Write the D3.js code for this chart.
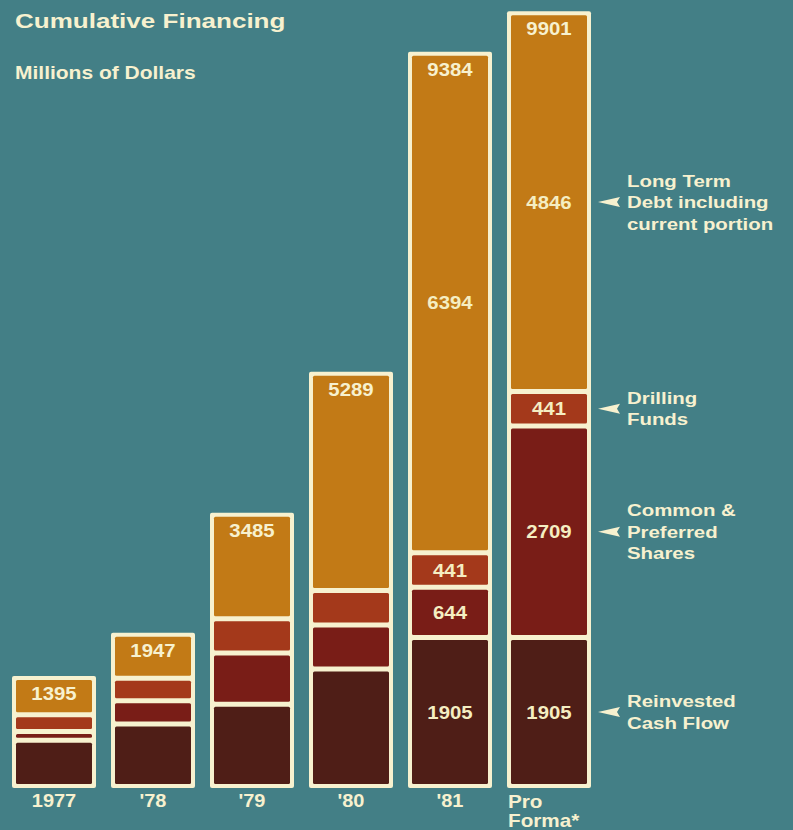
<!DOCTYPE html>
<html>
<head>
<meta charset="utf-8">
<script src="https://cdn.jsdelivr.net/npm/d3@7"></script>
<style>
  html, body { margin: 0; padding: 0; background: #437f86; }
  svg { display: block; }
</style>
</head>
<body>
<svg id="cumulative-financing-chart"></svg>
<script>
// values (millions of dollars)
const years = ["1977", "'78", "'79", "'80", "'81", "Pro Forma*"];
const reinvestedCashFlow = [591, 799, 1052, 1502, 1905, 1905];
const commonPreferred = [113, 299, 656, 566, 644, 2709];
const drillingFunds = [214, 287, 437, 441, 441, 441];
const longTermDebt = [477, 562, 1340, 2780, 6394, 4846];
const totals = [1395, 1947, 3485, 5289, 9384, 9901];
// columns that carry a number on every segment
const labelledYears = ["'81", "Pro Forma*"];

const seriesKeys = ["cash", "common", "drilling", "debt"];
const legendLines = {
  debt: ["Long Term", "Debt including", "current portion"],
  drilling: ["Drilling", "Funds"],
  common: ["Common &", "Preferred", "Shares"],
  cash: ["Reinvested", "Cash Flow"]
};

(function() {
  const BG = "#437f86";
  const CREAM = "#f7f1cf";
  const COLORS = {
    cash: "#4f1e17",
    common: "#791d17",
    drilling: "#a4391b",
    debt: "#c27a16"
  };
  const FONT = "'Liberation Sans', Arial, sans-serif";

  const width = 793;
  const height = 830;

  const svg = d3.select("#cumulative-financing-chart")
    .attr("width", width)
    .attr("height", height);

  svg.append("rect")
    .attr("width", width).attr("height", height)
    .attr("fill", BG);

  const rows = years.map((year, i) => ({
    year,
    cash: reinvestedCashFlow[i],
    common: commonPreferred[i],
    drilling: drillingFunds[i],
    debt: longTermDebt[i],
    total: totals[i]
  }));

  const stacked = d3.stack().keys(seriesKeys)(rows);

  const x = d3.scaleBand()
    .domain(years)
    .range([12, 591])
    .paddingInner(0.1515)
    .paddingOuter(0);

  const y = d3.scaleLinear()
    .domain([0, 10000])
    .range([786.5, 5]);

  const GAP = 5;     // cream gap between segments
  const FRAME = 4;   // cream border around each column

  // stretched bold text, the print face is wider than Arial
  function label(parent, px, py, str, size, sx, anchor, fill) {
    return parent.append("text")
      .attr("transform", `translate(${px},${py}) scale(${sx},1)`)
      .attr("text-anchor", anchor || "start")
      .attr("font-family", FONT)
      .attr("font-weight", 700)
      .attr("font-size", size)
      .attr("fill", fill || CREAM)
      .text(str);
  }

  // Title
  label(svg, 15, 28, "Cumulative Financing", 21, 1.24);
  label(svg, 15, 79, "Millions of Dollars", 17.5, 1.2);

  // Column frames
  svg.append("g")
    .selectAll("rect")
    .data(rows)
    .join("rect")
    .attr("x", d => x(d.year))
    .attr("y", d => y(d.total) + GAP / 2 - FRAME)
    .attr("width", x.bandwidth())
    .attr("height", d => y(0) - y(d.total) - GAP + 2 * FRAME)
    .attr("rx", 2)
    .attr("fill", CREAM);

  // Segments
  const segG = svg.append("g");
  stacked.forEach(layer => {
    segG.append("g")
      .selectAll("rect")
      .data(layer)
      .join("rect")
      .attr("x", d => x(d.data.year) + FRAME)
      .attr("y", d => y(d[1]) + GAP / 2)
      .attr("width", x.bandwidth() - 2 * FRAME)
      .attr("height", d => Math.max(0, y(d[0]) - y(d[1]) - GAP))
      .attr("rx", 1.5)
      .attr("fill", COLORS[layer.key]);
  });

  // Totals at the top of each column
  rows.forEach(d => {
    label(svg, x(d.year) + x.bandwidth() / 2, y(d.total) + GAP / 2 + 20,
      d3.format("d")(d.total), 18.5, 1.1, "middle");
  });

  // Segment values for the last two columns
  stacked.forEach(layer => {
    layer.filter(d => labelledYears.includes(d.data.year)).forEach(d => {
      const cy = (y(d[0]) + y(d[1])) / 2;
      label(svg, x(d.data.year) + x.bandwidth() / 2, cy + 6.5,
        d3.format("d")(d[1] - d[0]), 18.5, 1.1, "middle", "#f5eec2");
    });
  });

  // Year labels
  rows.forEach(d => {
    if (d.year === "Pro Forma*") {
      const [a, b] = d.year.split(" ");
      label(svg, x(d.year) + 1, 808, a, 18, 1.15);
      label(svg, x(d.year) + 1, 827, b, 18, 1.15);
    } else {
      label(svg, x(d.year) + x.bandwidth() / 2, 807, d.year, 18.5, 1.08, "middle");
    }
  });

  // Legend, pointing at the pro forma column
  const last = years[years.length - 1];
  const legendG = svg.append("g");
  stacked.forEach(layer => {
    const seg = layer.find(d => d.data.year === last);
    const cy = (y(seg[0]) + y(seg[1])) / 2;
    const tip = x(last) + x.bandwidth() + 7;

    legendG.append("path")
      .attr("d", `M${tip},${cy} L${tip + 22},${cy - 5} L${tip + 19},${cy} L${tip + 22},${cy + 5} Z`)
      .attr("fill", CREAM);

    const lines = legendLines[layer.key];
    const lineH = 21.5;
    const first = cy - (lines.length - 1) * lineH / 2;
    lines.forEach((t, i) => {
      label(legendG, tip + 29, first + i * lineH + 6, t, 17, 1.2);
    });
  });
})();
</script>
</body>
</html>
